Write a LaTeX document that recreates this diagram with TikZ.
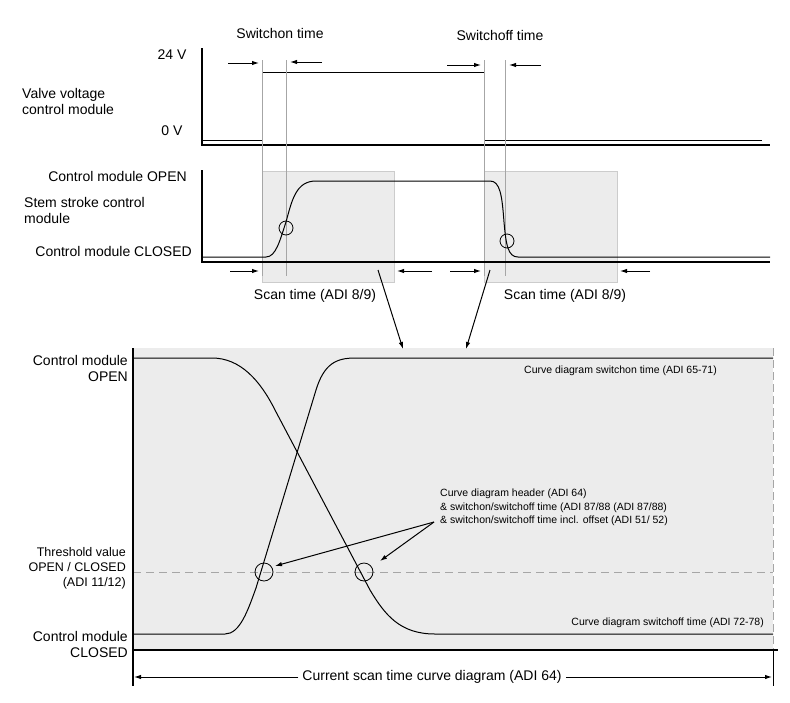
\documentclass[tikz,border=0pt]{standalone}
\usepackage{fontspec}
\setmainfont{Liberation Sans}
\usetikzlibrary{arrows.meta}
\begin{document}
\begin{tikzpicture}[x=1pt,y=-1pt,
  lbl/.style={font=\fontsize{14}{16}\selectfont, inner sep=0pt},
  sm/.style={font=\fontsize{10.5}{13.5}\selectfont, inner sep=0pt},
  thrs/.style={font=\fontsize{12.5}{15}\selectfont, inner sep=0pt},
  ax/.style={line width=1.1pt},
  sig/.style={line width=1pt},
  gl/.style={draw=gray!70, line width=0.6pt},
  arr/.style={-{Latex[length=7pt,width=4.5pt]}, line width=1pt},
  box/.style={fill=gray!15, draw=gray!40, line width=0.5pt},
  circ/.style={circle, draw, line width=0.8pt, inner sep=0pt, minimum size=14pt}]
\useasboundingbox (0,0) rectangle (790,702);
% ---------- top panel
\node[lbl] (swon) at (280,33) {Switchon time};
\node[lbl] (swoff) at (500,35) {Switchoff time};
\node[lbl] (v24) at (172,55) {24 V};
\node[lbl] (v0) at (172,131) {0 V};
\node[lbl, anchor=west, align=left] (vv) at (22,101) {Valve voltage\\control module};
\draw[ax] (202,48) -- (202,145) -- (770,145);
\draw[sig] (202,140) -- (262,140) -- (262,72) -- (484,72) -- (484,140) -- (762,140);
% ---------- middle panel
\draw[box] (262,171) rectangle (394,282);
\draw[box] (484,171) rectangle (617,282);
\foreach \x in {262,286,484,505} \draw[gl] (\x,60) -- (\x,276);
\draw[ax] (202,170) -- (202,262) -- (770,262);
\draw[sig] (202,257) -- (266,257) .. controls (276,257) and (280,240) .. (286,222)
  .. controls (292,200) and (296,181) .. (316,181) -- (490,181)
  .. controls (500,181) and (502,195) .. (504,222)
  .. controls (506,245) and (508,257) .. (518,257) -- (770,257);
\node[circ] (c1) at (286,228) {};
\node[circ] (c2) at (507,241) {};
\node[lbl, anchor=east] (cmo) at (187,176) {Control module OPEN};
\node[lbl, anchor=west, align=left] (ssc) at (24,210) {Stem stroke control\\module};
\node[lbl, anchor=east] (cmc) at (192,251) {Control module CLOSED};
\node[lbl] (sc1) at (315,296) {Scan time (ADI 8/9)};
\node[lbl] (sc2) at (565,296) {Scan time (ADI 8/9)};
\coordinate (a1s) at (230,271); \coordinate (a1e) at (259,271);
\coordinate (a2s) at (432,271); \coordinate (a2e) at (397,271);
\coordinate (a3s) at (450,271); \coordinate (a3e) at (481,271);
\coordinate (a4s) at (650,271); \coordinate (a4e) at (620,271);
\draw[arr] (a1s) -- (a1e); \draw[arr] (a2s) -- (a2e);
\draw[arr] (a3s) -- (a3e); \draw[arr] (a4s) -- (a4e);
\coordinate (t1s) at (228,63); \coordinate (t1e) at (259,63);
\coordinate (t2s) at (322,62); \coordinate (t2e) at (290,62);
\coordinate (t3s) at (447,65); \coordinate (t3e) at (481,65);
\coordinate (t4s) at (541,65); \coordinate (t4e) at (509,65);
\draw[arr] (t1s) -- (t1e); \draw[arr] (t2s) -- (t2e);
\draw[arr] (t3s) -- (t3e); \draw[arr] (t4s) -- (t4e);
% ---------- bottom panel
\draw[fill=gray!15, draw=none] (133,348) rectangle (773,650);
\coordinate (d1s) at (378,270); \coordinate (d1e) at (403,349);
\coordinate (d2s) at (490,270); \coordinate (d2e) at (466,349);
\draw[arr] (d1s) -- (d1e); \draw[arr] (d2s) -- (d2e);
\draw[dashed, gray!70, line width=0.7pt, dash pattern=on 8pt off 5pt] (133,572) -- (773,572);
\draw[dashed, gray!70, line width=0.7pt, dash pattern=on 8pt off 4pt] (773,348) -- (773,650);
% switchon curve
\draw[sig] (133,634) -- (225,634) .. controls (240,634) and (248,610) .. (256,588)
  -- (316,390) .. controls (324,364) and (336,358) .. (355,358) -- (773,358);
% switchoff curve
\draw[sig] (133,358) -- (212,358) .. controls (240,358) and (260,380) .. (275,410)
  -- (370,590) .. controls (385,615) and (400,634) .. (435,634) -- (773,634);
\node[circ, minimum size=18pt] (k1) at (264,572) {};
\node[circ, minimum size=18pt] (k2) at (364,572) {};
\draw[ax] (133,348) -- (133,686);
\draw[ax] (133,650) -- (778,650);
\draw[line width=0.7pt] (773,650) -- (773,686);
\node[sm, anchor=east] (sot) at (717,371) {Curve diagram switchon time (ADI 65-71)};
\node[sm, anchor=east] (sft) at (764,623) {Curve diagram switchoff time (ADI 72-78)};
\node[sm, anchor=north west, align=left] (hdr) at (440,489) {Curve diagram header (ADI 64)\\\& switchon/switchoff time (ADI 87/88 (ADI 87/88)\\\& switchon/switchoff time incl. offset (ADI 51/ 52)};
\coordinate (hp) at (434,522);
\draw[arr] (hp) -- (275,566);
\draw[arr] (hp) -- (380,561);
\node[lbl, anchor=east, align=right] (clo) at (128,368) {Control module\\OPEN};
\node[thrs, anchor=east, align=right] (thr) at (126,568) {Threshold value\\OPEN / CLOSED\\(ADI 11/12)};
\node[lbl, anchor=east, align=right] (clc) at (128,644) {Control module\\CLOSED};
\coordinate (bl) at (134,677); \coordinate (br) at (772,677);
\node[lbl, fill=white, inner xsep=4pt] (cur) at (432,677) {Current scan time curve diagram (ADI 64)};
\draw[arr] (cur.west) -- (bl);
\draw[arr] (cur.east) -- (br);
\end{tikzpicture}
\end{document}
